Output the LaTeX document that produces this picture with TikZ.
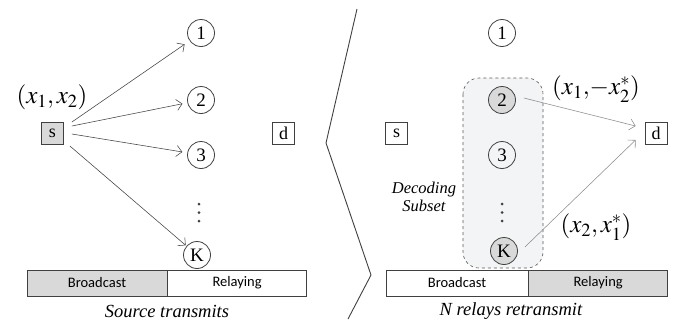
\documentclass[tikz,border=0pt]{standalone}
\usepackage{mathptmx}
\usepackage{fontspec}
\setmainfont{Liberation Serif}
\newfontfamily\barfont{Carlito}
\usetikzlibrary{calc,arrows.meta}

\definecolor{inkgray}{HTML}{404040}
\definecolor{shade}{HTML}{D9D9D9}
\definecolor{subsetfill}{HTML}{F3F4F5}

\begin{document}
\begin{tikzpicture}[x=1pt,y=-1pt,
  relay/.style={circle,draw=inkgray,line width=0.8pt,minimum size=27pt,inner sep=0pt,
    font=\fontsize{19}{19}\selectfont},
  hot/.style={fill=shade},
  term/.style={rectangle,draw=inkgray,line width=0.8pt,minimum size=22pt,inner sep=0pt,
    font=\fontsize{18}{18}\selectfont},
  slot/.style={rectangle,draw=inkgray,line width=0.6pt,minimum height=26pt,inner sep=0pt,
    font=\barfont\fontsize{14.5}{14.5}\selectfont},
  arr/.style={-{Straight Barb[length=5.5pt,width=11pt]},draw=inkgray,line width=0.55pt},
  lightarr/.style={arr,draw=black!45},
  caption/.style={font=\itshape\fontsize{18.5}{18.5}\selectfont},
  mathlabel/.style={font=\fontsize{25}{25}\selectfont},
  dot/.style={fill=inkgray}]
\useasboundingbox (0,0) rectangle (674,322);

% ---- left panel: source broadcasts ----
\node[term,hot] (ls) at (52.5,133) {s};
\node[term] (ld) at (283.5,133) {d};
\node[mathlabel] (lx) at (52,97) {$(x_1{,}\,x_2)$};
\node[relay] (L1) at (201,33) {1};
\node[relay] (L2) at (201,100) {2};
\node[relay] (L3) at (201,155) {3};
\node[relay] (LK) at (197,255) {K};
\foreach \yy in {204,212.5,221} \fill[dot] (199,\yy) circle (1.5);

\draw[arr,shorten >=6pt] ($(ls.east)+(8,-11)$) -- (L1);
\draw[arr,shorten >=5pt] ($(ls.east)+(8,-7)$) -- (L2);
\draw[arr,shorten >=5pt] ($(ls.east)+(8,1)$) -- (L3);
\draw[arr,shorten >=1pt] ($(ls.east)+(6,13)$) -- (LK);

\node[slot,hot,minimum width=140pt] (lb) at (97,283) {Broadcast};
\node[slot,minimum width=139pt,anchor=west] (lr) at (lb.east) {Relaying};
\node[caption] (lc) at (167,311) {Source transmits};

% ---- separator ----
\draw[inkgray,line width=0.9pt] (357,9) -- (326,143) -- (371,275) -- (348,319);

% ---- right panel: decoding relays retransmit ----
\draw[dashed,draw=black!65,line width=0.6pt,fill=subsetfill,rounded corners=16pt]
  (463,78) rectangle (543,268);
\node[term] (rs) at (396.5,133) {s};
\node[term] (rd) at (656,133) {d};
\node[relay] (R1) at (502,33) {1};
\node[relay,hot] (R2) at (502,100) {2};
\node[relay] (R3) at (502,155) {3};
\node[relay,hot] (RK) at (504,251) {K};
\foreach \yy in {204,212.5,221} \fill[dot] (502,\yy) circle (1.5);
\node[font=\itshape\fontsize{16.5}{18}\selectfont,align=center] (sub) at (424,197)
  {Decoding\\Subset};

\draw[lightarr] ($(R2.east)+(8,-2)$) -- ($(rd.west)+(-9,-7)$);
\draw[lightarr] ($(RK.east)+(7,-4)$) -- ($(rd.west)+(-9,7)$);
\node[mathlabel] (ra) at (596,89) {$(x_1{,}{-}x_2^{*})$};
\node[mathlabel] (rb) at (596,227) {$(x_2{,}\,x_1^{*})$};

\node[slot,minimum width=142pt] (rbc) at (457,283) {Broadcast};
\node[slot,hot,minimum width=139pt,anchor=west] (rrl) at (rbc.east) {Relaying};
\node[caption] (rc) at (511,311) {N relays retransmit};
\end{tikzpicture}
\end{document}
